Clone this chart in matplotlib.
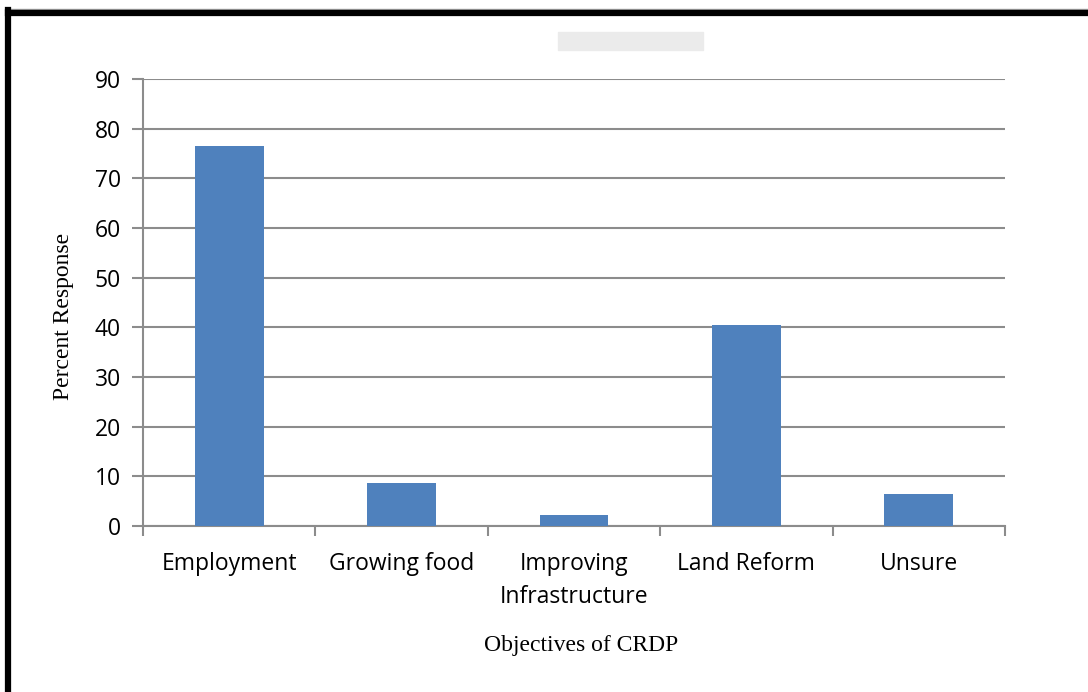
import matplotlib.pyplot as plt
import matplotlib.patches as mpatches
from matplotlib.lines import Line2D
import numpy as np

# data
categories = ["Employment", "Growing food", "Improving\nInfrastructure", "Land Reform", "Unsure"]
percent = [76.6, 8.6, 2.2, 40.4, 6.4]

bar_color = "#4F81BD"
grid_color = "#8C8C8C"

fig = plt.figure(figsize=(10.88, 6.92), dpi=100)
ax = fig.add_axes([143 / 1088, 1 - 526 / 692, (1005 - 143) / 1088, (526 - 79) / 692])

x = np.arange(len(categories))
ax.bar(x, percent, width=0.4, color=bar_color, zorder=3)

ax.set_xlim(-0.5, len(categories) - 0.5)
ax.set_ylim(0, 90)
ax.set_yticks(np.arange(0, 91, 10))
ax.yaxis.grid(True, color=grid_color, linewidth=1.5, zorder=0)

# category labels centred, tick marks on category boundaries
ax.set_xticks(x)
ax.set_xticklabels(categories, fontfamily="Open Sans", fontsize=16.5, linespacing=1.5)
ax.set_xticks(np.arange(-0.5, len(categories)), minor=True)
ax.tick_params(axis="x", which="major", length=0, pad=19)
ax.tick_params(axis="x", which="minor", length=7, width=1.5, color=grid_color, direction="out")
ax.tick_params(axis="y", length=8, width=1.5, color=grid_color, pad=8, labelsize=16.5)
for lab in ax.get_yticklabels():
    lab.set_fontfamily("Open Sans")

for side in ["top", "right"]:
    ax.spines[side].set_visible(False)
for side in ["left", "bottom"]:
    ax.spines[side].set_color(grid_color)
    ax.spines[side].set_linewidth(1.5)

fig.text(63 / 1088, 1 - 316 / 692, "Percent Response", rotation=90, ha="center", va="center",
         fontfamily="Liberation Serif", fontsize=17)
fig.text(581 / 1088, 1 - 645 / 692, "Objectives of CRDP", ha="center", va="center",
         fontfamily="Liberation Serif", fontsize=17)

# faint watermark box at top
fig.patches.append(mpatches.Rectangle((558 / 1088, 1 - 50 / 692), 145 / 1088, 18 / 692,
                                      transform=fig.transFigure, color="#EBEBEB", zorder=0))

# page frame (left and top edges)
fig.lines.append(Line2D([5 / 1088, 1], [1 - 9 / 692, 1 - 9 / 692], transform=fig.transFigure,
                        color="#A0A0A0", linewidth=1))
fig.lines.append(Line2D([8 / 1088, 1], [1 - 12.5 / 692, 1 - 12.5 / 692], transform=fig.transFigure,
                        color="black", linewidth=4.5))
fig.lines.append(Line2D([8 / 1088, 8 / 1088], [1 - 10 / 692, 0], transform=fig.transFigure,
                        color="black", linewidth=4.5))

fig.savefig("out.png", dpi=100)
